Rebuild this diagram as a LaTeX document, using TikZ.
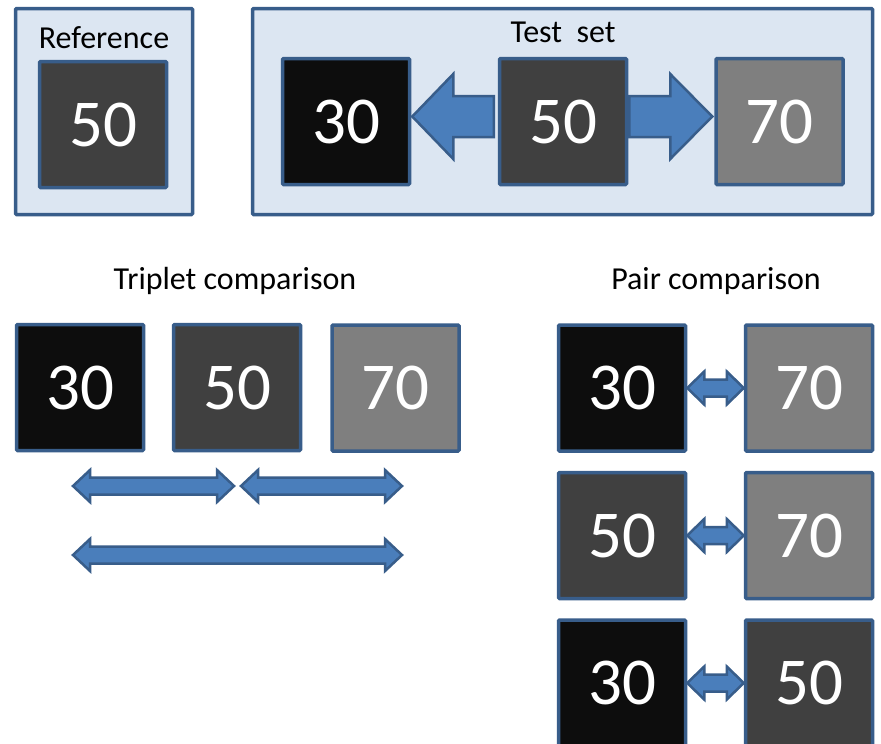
\documentclass[tikz,border=0pt]{standalone}
\usepackage{fontspec}
\setmainfont{Carlito}
\usetikzlibrary{calc}
\definecolor{bord}{HTML}{385D8A}
\definecolor{panel}{HTML}{DCE6F2}
\definecolor{arrfill}{HTML}{4A7EBB}
\definecolor{gA}{HTML}{0D0D0D}
\definecolor{gB}{HTML}{404040}
\definecolor{gC}{HTML}{7F7F7F}
\tikzset{
  panelbox/.style={draw=bord, fill=panel, line width=3.5pt, rounded corners=1pt, inner sep=0pt},
  sq/.style={draw=bord, line width=3.5pt, rounded corners=1pt, minimum width=127pt, minimum height=126pt, inner sep=0pt, text=white, font=\fontsize{67}{70}\selectfont},
  title/.style={font=\fontsize{32}{35}\selectfont, text=black, inner sep=0pt},
  blockarrow/.style={draw=bord, fill=arrfill, line width=2.5pt, line join=miter},
}
% double block arrow between two tip points: #1 left tip, #2 right tip, #3 head half, #4 shaft half, #5 head length
\newcommand\DArrow[5]{%
  \draw[blockarrow] let \p1=(#1), \p2=(#2) in
    (\x1,\y1) -- (\x1+#5,\y1+#3) -- (\x1+#5,\y1+#4) -- (\x2-#5,\y1+#4) -- (\x2-#5,\y1+#3)
    -- (\x2,\y1) -- (\x2-#5,\y1-#3) -- (\x2-#5,\y1-#4) -- (\x1+#5,\y1-#4) -- (\x1+#5,\y1-#3) -- cycle;}
% single block arrow: #1 tail point, #2 tip point (horizontal)
\newcommand\SArrow[5]{%
  \draw[blockarrow] let \p1=(#1), \p2=(#2), \n1={ifthenelse(\x2>\x1,1,-1)} in
    (\x1,\y1+#4) -- (\x2-\n1*#5,\y1+#4) -- (\x2-\n1*#5,\y1+#3) -- (\x2,\y1)
    -- (\x2-\n1*#5,\y1-#3) -- (\x2-\n1*#5,\y1-#4) -- (\x1,\y1-#4) -- cycle;}
\begin{document}
\begin{tikzpicture}[x=1pt,y=-1pt]
\useasboundingbox[fill=white] (0,0) rectangle (881,744);
% panels
\node[panelbox, minimum width=177pt, minimum height=206pt] (refpanel) at (104,111.5) {};
\node[panelbox, minimum width=620pt, minimum height=206pt] (testpanel) at (562.5,111.5) {};
\node[title] (reflabel) at (104,38) {Reference};
\node[title] (testlabel) at (563,32) {Test\ \ set};
% reference
\node[sq, fill=gB] (ref50) at (103,124.5) {50};
% test set
\node[sq, fill=gA] (ts30) at (346,121.5) {30};
\node[sq, fill=gB] (ts50) at (563,121.5) {50};
\node[sq, fill=gC] (ts70) at (779.5,121.5) {70};
\coordinate (tsL) at ($(ts50.west)+(-4,-5)$);
\coordinate (tsLtip) at ($(ts30.east)+(1,-5)$);
\coordinate (tsR) at ($(ts50.east)+(1,-5)$);
\coordinate (tsRtip) at ($(ts70.west)+(-2,-5)$);
\SArrow{tsL}{tsLtip}{42.5pt}{20.5pt}{41pt}
\SArrow{tsR}{tsRtip}{42.5pt}{20.5pt}{42pt}
% triplet comparison
\node[title] (triplabel) at (235,281) {Triplet comparison};
\node[sq, fill=gA] (tr30) at (80,387.5) {30};
\node[sq, fill=gB] (tr50) at (237,387.5) {50};
\node[sq, fill=gC] (tr70) at (395.5,388) {70};
\coordinate (a1l) at (73,486);
\coordinate (a1r) at (234,486);
\coordinate (a2l) at (241,486);
\coordinate (a2r) at (402,486);
\coordinate (a3l) at (73,555);
\coordinate (a3r) at (402,555);
\DArrow{a1l}{a1r}{16pt}{8.5pt}{17pt}
\DArrow{a2l}{a2r}{16pt}{8.5pt}{17pt}
\DArrow{a3l}{a3r}{16pt}{8.5pt}{17pt}
% pair comparison
\node[title] (pairlabel) at (716,281) {Pair comparison};
\node[sq, fill=gA] (p1a) at (622,388) {30};
\node[sq, fill=gC] (p1b) at (809,388) {70};
\node[sq, fill=gB] (p2a) at (622,535.5) {50};
\node[sq, fill=gC] (p2b) at (809,535.5) {70};
\node[sq, fill=gA] (p3a) at (622,683) {30};
\node[sq, fill=gB] (p3b) at (809,683) {50};
\DArrow{p1a.east}{p1b.west}{16.5pt}{8.5pt}{17pt}
\DArrow{p2a.east}{p2b.west}{16.5pt}{8.5pt}{17pt}
\DArrow{p3a.east}{p3b.west}{16.5pt}{8.5pt}{17pt}
\end{tikzpicture}
\end{document}
